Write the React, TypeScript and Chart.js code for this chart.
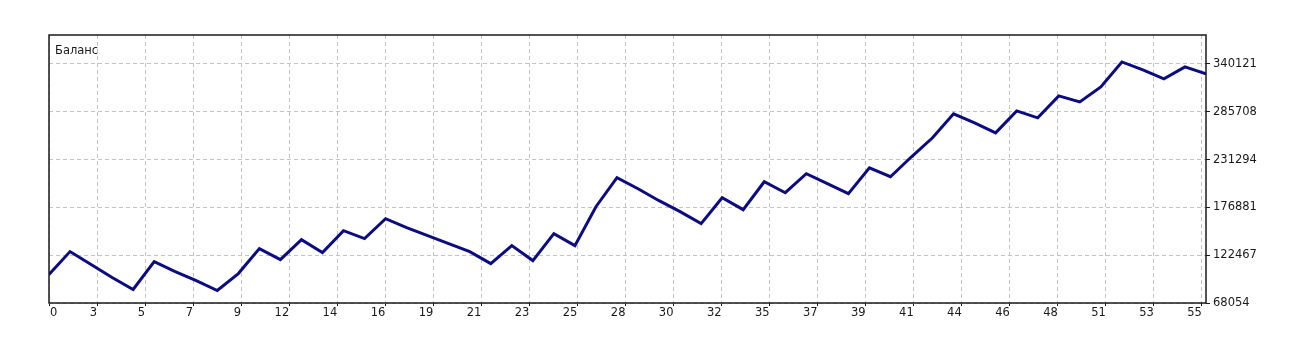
import React, { useEffect, useRef } from "react";
import { Chart, registerables } from "chart.js";

Chart.register(...registerables);

const TITLE = "Баланс";

const BALANCE = [
  100430, 126560, 111790, 97020, 83390, 115200, 103840, 93610, 82250, 101570,
  129970, 117470, 140190, 125420, 150410, 141330, 164050, 153820, 144730, 135650,
  126560, 112930, 133370, 116330, 147010, 133370, 177680, 210620, 198130, 184490,
  172000, 158370, 187900, 174270, 206080, 193580, 215170, 203810, 192450, 221980,
  211760, 234480, 256060, 283330, 273100, 261740, 286730, 278780, 303770, 296960,
  314000, 342400, 333310, 323090, 336720, 328770,
];

const X_LABELS = [
  "0", "3", "5", "7", "9", "12", "14", "16", "19", "21", "23", "25", "28",
  "30", "32", "35", "37", "39", "41", "44", "46", "48", "51", "53", "55",
];

const Y_TICKS = [68054, 122467, 176881, 231294, 285708, 340121];
const Y_MIN = 68054;
const Y_MAX = 373070;
const X_GRID_STEP = 2.2836;

const FONT_FAMILY = "'DejaVu Sans', sans-serif";
const FONT_SIZE = 11.5;
const TEXT_COLOR = "#1a1a1a";
const GRID_COLOR = "#c4c4c4";
const LINE_COLOR = "#0c0c82";
const FRAME_COLOR = "#1a1a1a";

const overlay = {
  id: "overlay",
  afterDraw(chart: any) {
    const { ctx, chartArea: a, scales } = chart;
    const xs = scales.x;
    ctx.save();
    ctx.strokeStyle = FRAME_COLOR;
    ctx.lineWidth = 1.5;
    ctx.strokeRect(a.left, a.top, a.right - a.left, a.bottom - a.top);
    ctx.font = `${FONT_SIZE}px ${FONT_FAMILY}`;
    ctx.fillStyle = TEXT_COLOR;
    ctx.textBaseline = "top";
    xs.ticks.forEach((t: any, k: number) => {
      const px = xs.getPixelForValue(t.value);
      ctx.textAlign = k === 0 ? "left" : "right";
      ctx.fillText(X_LABELS[k], k === 0 ? px + 1 : px, a.bottom + 4);
    });
    ctx.textAlign = "left";
    ctx.textBaseline = "alphabetic";
    ctx.fillText(TITLE, a.left + 6, a.top + 18.5);
    ctx.restore();
  },
};

export default function App() {
  const ref = useRef<HTMLCanvasElement | null>(null);

  useEffect(() => {
    if (!ref.current) return;
    const points = BALANCE.map((y, i) => ({ x: i, y }));
    const chart = new Chart(ref.current, {
      type: "line",
      data: {
        datasets: [
          {
            data: points,
            borderColor: LINE_COLOR,
            borderWidth: 3,
            pointRadius: 0,
            tension: 0,
            fill: false,
          },
        ],
      },
      options: {
        animation: false,
        responsive: false,
        layout: { padding: { left: 49, top: 35, right: 0, bottom: 0 } },
        plugins: {
          legend: { display: false },
          tooltip: { enabled: false },
          title: { display: false },
        },
        scales: {
          x: {
            type: "linear",
            min: 0,
            max: BALANCE.length - 1,
            afterBuildTicks: (scale: any) => {
              scale.ticks = X_LABELS.map((_, k) => ({ value: k * X_GRID_STEP }));
            },
            afterFit: (scale: any) => {
              scale.height = 56;
            },
            ticks: { display: false },
            grid: {
              color: GRID_COLOR,
              lineWidth: 1,
              drawTicks: true,
              tickLength: 3,
              tickColor: FRAME_COLOR,
              tickBorderDash: [],
            },
            border: { display: false, dash: [4, 3] },
          },
          y: {
            type: "linear",
            position: "right",
            min: Y_MIN,
            max: Y_MAX,
            afterBuildTicks: (scale: any) => {
              scale.ticks = Y_TICKS.map((v) => ({ value: v }));
            },
            afterFit: (scale: any) => {
              scale.width = 109;
            },
            ticks: {
              padding: 3,
              color: TEXT_COLOR,
              font: { family: FONT_FAMILY, size: FONT_SIZE },
              callback: (v: any) => String(v),
            },
            grid: {
              color: GRID_COLOR,
              lineWidth: 1,
              drawTicks: true,
              tickLength: 4,
              tickColor: FRAME_COLOR,
              tickBorderDash: [],
            },
            border: { display: false, dash: [4, 3] },
          },
        },
      },
      plugins: [overlay],
    });
    return () => chart.destroy();
  }, []);

  return (
    <div style={{ position: "fixed", left: 0, top: 0, width: 1315, height: 359, background: "#fff" }}>
      <canvas ref={ref} width={1315} height={359} style={{ display: "block" }} />
    </div>
  );
}
